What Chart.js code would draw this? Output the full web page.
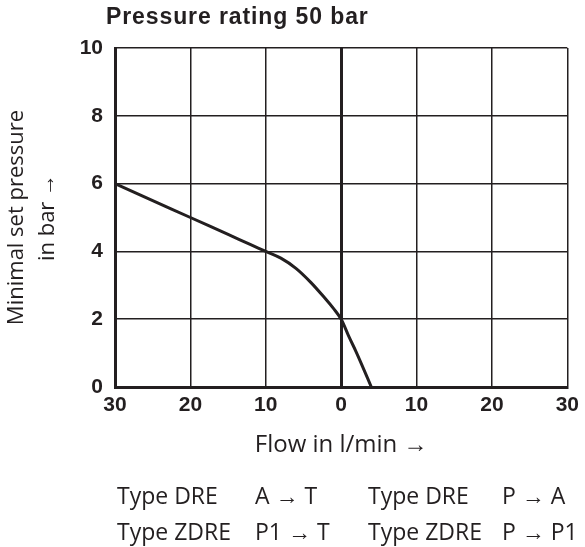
<!DOCTYPE html>
<html><head><meta charset="utf-8">
<script src="https://cdn.jsdelivr.net/npm/chart.js@4/dist/chart.umd.min.js"></script>
<style>html,body{margin:0;padding:0;background:#fff}#wrap{width:585px;height:547px;position:relative}</style>
</head><body><div id="wrap"><canvas id="c" width="585" height="547"></canvas></div>
<script>
const flow = [-30, -25, -20, -15, -12, -10, -8, -6, -4, -2, -1, 0, 1, 2, 3, 4];
const pressure = [6, 5.5, 5.0, 4.5, 4.2, 4.0, 3.8, 3.5, 3.08, 2.58, 2.31, 2.0, 1.5, 1.03, 0.52, 0];
const xTicks = [-30, -20, -10, 0, 10, 20, 30];
const yTicks = [0, 2, 4, 6, 8, 10];
const titleText = "Pressure rating 50 bar";
const xTitle = "Flow in l/min \u2192";
const yTitle = ["Minimal set pressure", "in bar \u2192"];
const legendRows = [
  ["Type DRE", "A \u2192 T", "Type DRE", "P \u2192 A"],
  ["Type ZDRE", "P1 \u2192 T", "Type ZDRE", "P \u2192 P1"]
];
const INK = '#231f20';

const textPlugin = {
  id: 'texts',
  afterDraw(chart) {
    const ctx = chart.ctx;
    ctx.save();
    ctx.fillStyle = INK;
    ctx.textBaseline = 'middle';
    ctx.textAlign = 'left';
    ctx.font = 'bold 23px "Liberation Sans", Arial, sans-serif';
    try { ctx.letterSpacing = '0.9px'; } catch (e) {}
    ctx.fillText(titleText, 106, 18);
    try { ctx.letterSpacing = '0px'; } catch (e) {}
    ctx.font = '23px "Open Sans", "Noto Sans", sans-serif';
    const cols = [117, 255, 368, 502];
    const rowsY = [497, 533];
    legendRows.forEach((row, r) => {
      row.forEach((t, i) => ctx.fillText(t, cols[i], rowsY[r]));
    });
    ctx.restore();
  }
};

new Chart(document.getElementById('c'), {
  type: 'line',
  data: {
    datasets: [{
      data: flow.map((x, i) => ({x: x, y: pressure[i]})),
      borderColor: INK,
      borderWidth: 3,
      pointRadius: 0,
      fill: false,
      tension: 0.35
    }]
  },
  options: {
    responsive: false,
    animation: false,
    devicePixelRatio: 1,
    layout: {padding: {top: 48, right: 17, left: 0, bottom: 0}},
    plugins: {legend: {display: false}, tooltip: {enabled: false}, title: {display: false}},
    scales: {
      x: {
        type: 'linear', min: -30, max: 30,
        afterFit(s) { s.height = 160; },
        afterBuildTicks(s) { s.ticks = xTicks.map(v => ({value: v})); },
        ticks: {
          callback: v => String(Math.abs(v)),
          color: INK, padding: 6, maxRotation: 0,
          font: {family: '"Liberation Sans", Arial, sans-serif', weight: 'bold', size: 21}
        },
        grid: {
          color: INK, drawTicks: false,
          lineWidth: c => (c.tick && c.tick.value === 0) ? 3 : 1.5
        },
        border: {display: true, color: INK, width: 3},
        title: {
          display: true, text: xTitle, color: INK,
          font: {family: '"Open Sans", "Noto Sans", sans-serif', size: 24, lineHeight: '28px'},
          padding: {top: 0, bottom: 88}
        }
      },
      y: {
        type: 'linear', min: 0, max: 10,
        afterFit(s) { s.width = 115; },
        afterBuildTicks(s) { s.ticks = yTicks.map(v => ({value: v})); },
        ticks: {
          color: INK, padding: 12,
          font: {family: '"Liberation Sans", Arial, sans-serif', weight: 'bold', size: 21}
        },
        grid: {color: INK, drawTicks: false, lineWidth: 1.5},
        border: {display: true, color: INK, width: 3},
        title: {
          display: true, text: yTitle, color: INK,
          font: {family: '"Open Sans", "Noto Sans", sans-serif', size: 22, lineHeight: '31px'},
          padding: {top: 1, bottom: 0}
        }
      }
    }
  },
  plugins: [textPlugin]
});
</script></body></html>
